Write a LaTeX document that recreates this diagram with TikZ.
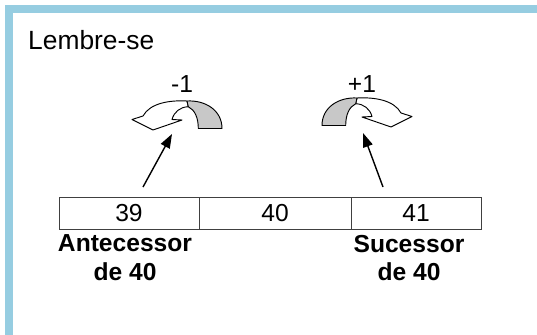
\documentclass[tikz,border=0pt]{standalone}
\usepackage{fontspec}
\setmainfont{Liberation Sans}
\usetikzlibrary{arrows.meta}
\definecolor{frameblue}{RGB}{150,205,225}
\definecolor{legray}{RGB}{200,200,200}
\tikzset{
  bend arrow/.pic={
    \draw[line width=0.8pt,fill=white,line join=round]
      (0,0) .. controls (-17,-1) and (-37,2) .. (-44,15) -- (-55,18.5) -- (-34,29) -- (-5,19) -- (-15,18.5)
      .. controls (-13,11) and (-7,6) .. (1.3,5.7) -- cycle;
    \draw[line width=0.8pt,fill=legray,line join=round]
      (0,0) .. controls (18,-1) and (35,9) .. (35,27.5) -- (11.3,27.5)
      .. controls (11.3,17) and (8,9) .. (1.3,5.7) -- cycle;
  },
  pointer/.style={line width=1.2pt,-{Triangle[length=12pt,width=8.5pt]}}
}
\begin{document}
\begin{tikzpicture}[x=0.03cm,y=-0.03cm]
  \useasboundingbox (0,0) rectangle (537,334);
  \begin{scope}
  \clip (0,0) rectangle (537,334);
  \draw[frameblue,line width=7.5pt] (9,9) rectangle (542.5,345);
  \end{scope}
  \node[anchor=west,inner sep=0,font=\fontsize{22.5}{27}\selectfont] (lembre) at (28,40) {Lembre-se};
  % the three cells
  \begin{scope}[every node/.style={draw=black!75,line width=0.6pt,inner sep=0,minimum height=0.96cm,font=\fontsize{21}{25}\selectfont}]
  \node[minimum width=4.2cm] (c39) at (129,213) {39};
  \node[minimum width=4.56cm] (c40) at (275,213) {40};
  \node[minimum width=3.9cm] (c41) at (416,213) {41};
  \end{scope}
  \begin{scope}[every node/.style={inner sep=0,align=center,font=\bfseries\fontsize{21}{24.5}\selectfont}]
  \node (ant) at (125,258) {Antecessor\\de 40};
  \node (suc) at (409,258) {Sucessor\\de 40};
  \end{scope}
  % curved arrows
  \pic at (187,101) {bend arrow};
  \pic[xscale=-1] at (357,98) {bend arrow};
  \begin{scope}[every node/.style={inner sep=0,font=\fontsize{21}{25}\selectfont}]
  \node (minus) at (182,84) {-1};
  \node (plus) at (362,84) {+1};
  \end{scope}
  \coordinate (antTail) at (143,187);
  \coordinate (antTip) at (172,134);
  \coordinate (sucTail) at (383,187);
  \coordinate (sucTip) at (363,133);
  \draw[pointer] (antTail) -- (antTip);
  \draw[pointer] (sucTail) -- (sucTip);
\end{tikzpicture}
\end{document}
